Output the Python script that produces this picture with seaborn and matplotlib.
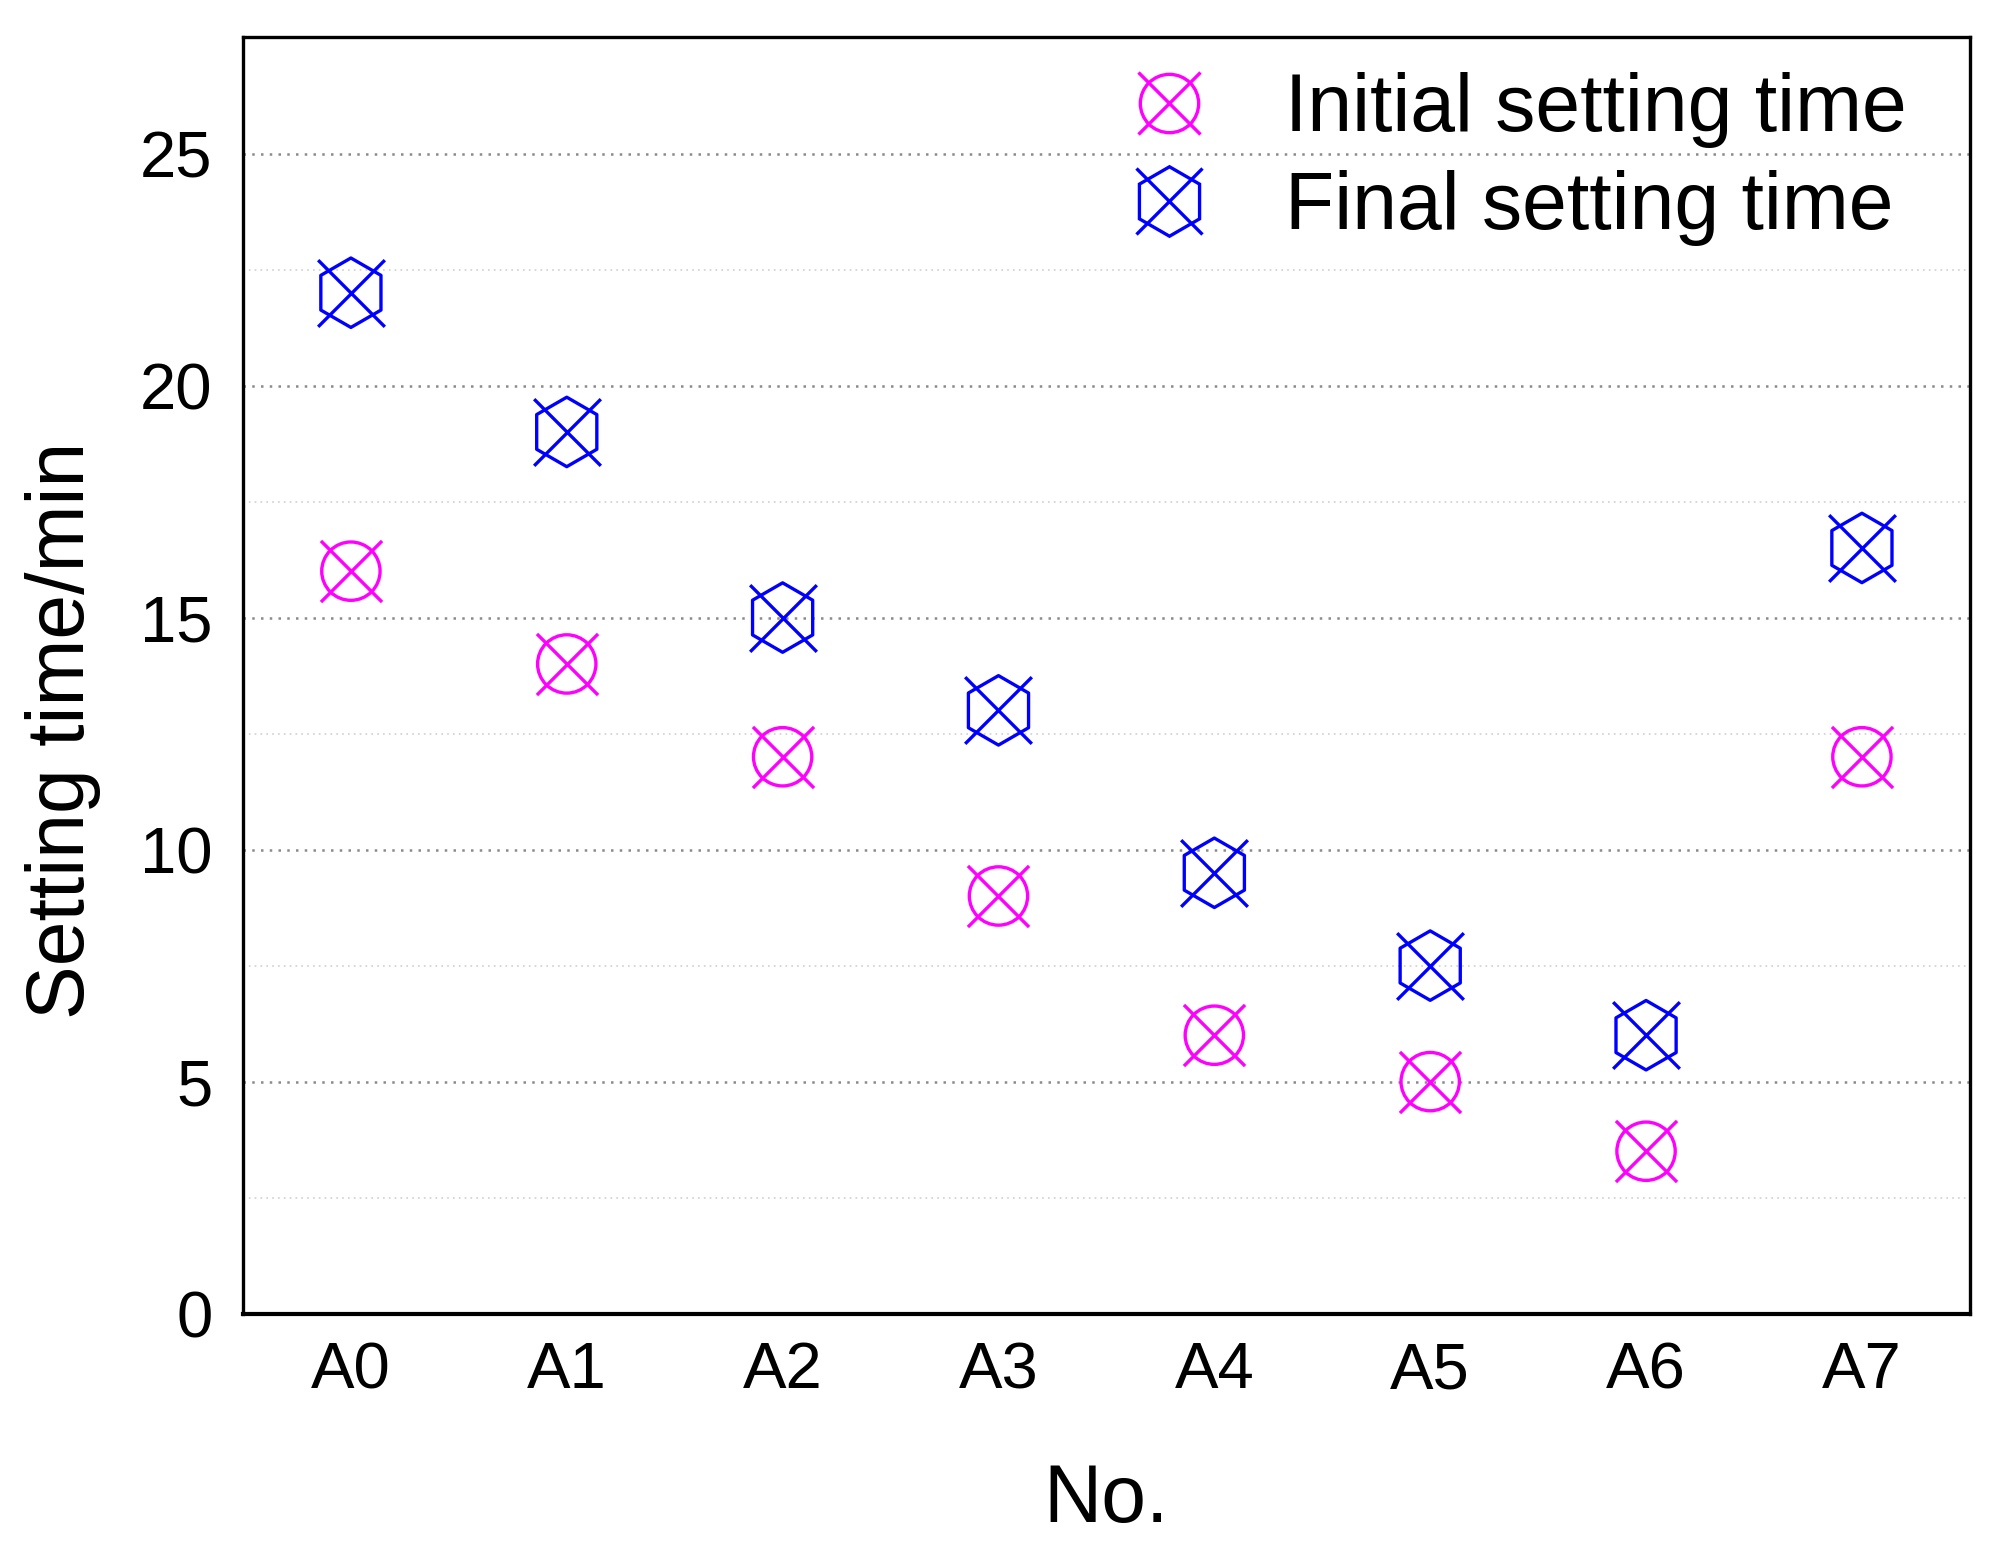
import matplotlib
matplotlib.use("Agg")
import matplotlib.pyplot as plt
from matplotlib.lines import Line2D
from matplotlib.ticker import MultipleLocator
import seaborn as sns
import pandas as pd

categories = ["A0", "A1", "A2", "A3", "A4", "A5", "A6", "A7"]
initial_time = [16, 14, 12, 9, 6, 5, 3.5, 12]
final_time = [22, 19, 15, 13, 9.5, 7.5, 6, 16.5]
y_ticks = [0, 5, 10, 15, 20, 25]

sns.set_style("white")
plt.rcParams['font.family'] = ['Liberation Sans', 'DejaVu Sans']
plt.rcParams['text.color'] = 'black'
plt.rcParams['axes.labelcolor'] = 'black'

df = pd.DataFrame({"No.": categories, "initial": initial_time, "final": final_time})

fig = plt.figure(figsize=(10.04, 7.81), dpi=200)
ax = fig.add_axes([0.121, 0.159, 0.860, 0.817])

MAG = "#FF00FF"
BLU = "#0000FF"
lw = 1.2

# Initial: circle + x
sns.scatterplot(data=df, x="No.", y="initial", marker="o", s=21**2,
                facecolor="none", edgecolor=MAG, linewidth=lw, ax=ax, zorder=3)
sns.scatterplot(data=df, x="No.", y="initial", marker="x", s=22**2,
                color=MAG, linewidth=lw, ax=ax, zorder=3)
# Final: hexagon + x
sns.scatterplot(data=df, x="No.", y="final", marker="h", s=25**2,
                facecolor="none", edgecolor=BLU, linewidth=lw, ax=ax, zorder=3)
sns.scatterplot(data=df, x="No.", y="final", marker="x", s=24**2,
                color=BLU, linewidth=lw, ax=ax, zorder=3)

ax.set_xlim(-0.5, 7.5)
ax.set_ylim(0, 27.5)
ax.set_yticks(y_ticks)
ax.yaxis.set_minor_locator(MultipleLocator(2.5))
ax.grid(True, which="major", axis="y", linestyle=(0, (1, 2.5)), color="#8a8a8a", linewidth=0.9)
ax.grid(True, which="minor", axis="y", linestyle=(0, (1, 2.5)), color="#cfcfcf", linewidth=0.6)
ax.set_axisbelow(True)

for s in ax.spines.values():
    s.set_visible(True)
    s.set_color("black")
    s.set_linewidth(1.2)
ax.spines["bottom"].set_linewidth(1.5)

ax.tick_params(axis="both", which="both", length=0, labelsize=23.5, colors="black")
ax.tick_params(axis="x", pad=10)
ax.tick_params(axis="y", pad=11)

ax.set_xlabel("No.", fontsize=29, labelpad=22)
ax.set_ylabel("Setting time/min", fontsize=29)
ax.yaxis.set_label_coords(-0.082, 0.457)

h1 = (Line2D([], [], ls="", marker="o", ms=21, mfc="none", mec=MAG, mew=lw),
      Line2D([], [], ls="", marker="x", ms=22, mec=MAG, mew=lw))
h2 = (Line2D([], [], ls="", marker="h", ms=25, mfc="none", mec=BLU, mew=lw),
      Line2D([], [], ls="", marker="x", ms=24, mec=BLU, mew=lw))
ax.legend([h1, h2], ["Initial setting time", "Final setting time"],
          loc="upper left", bbox_to_anchor=(0.471, 1.030), frameon=False,
          fontsize=29, handlelength=1.0, handletextpad=0.94, labelspacing=0.28,
          borderpad=0.4)

fig.savefig("out.png", dpi=200)
